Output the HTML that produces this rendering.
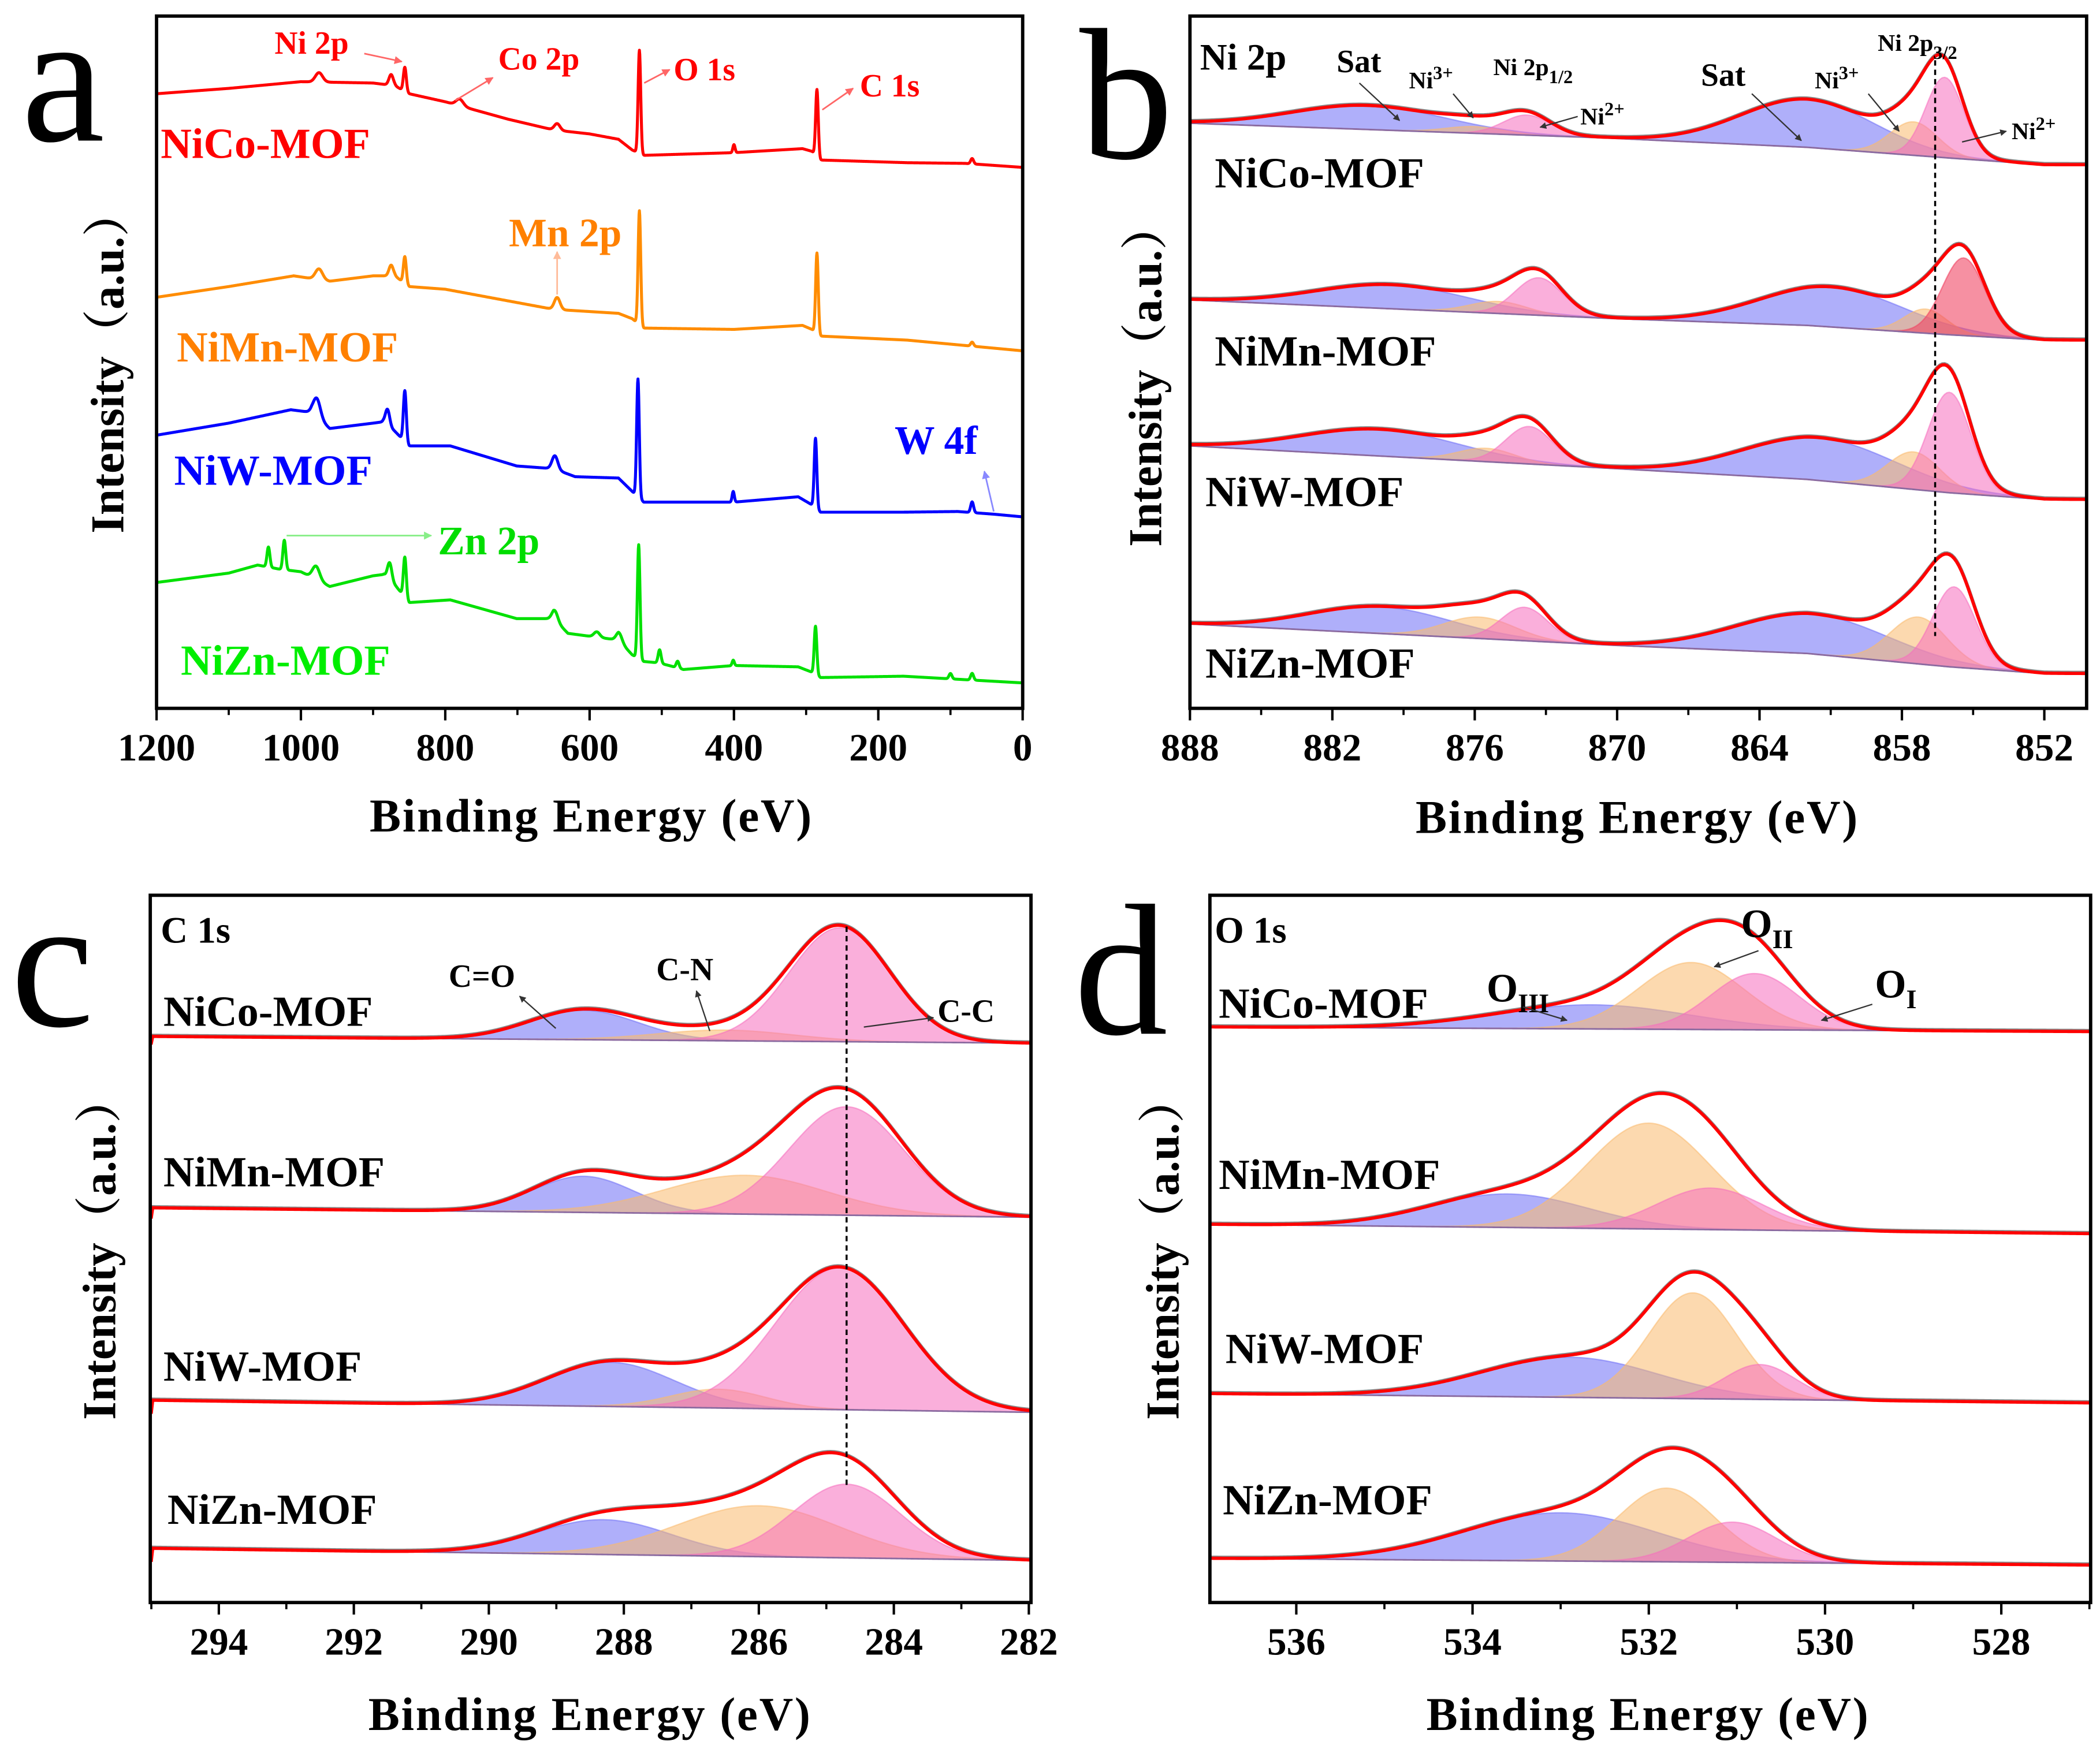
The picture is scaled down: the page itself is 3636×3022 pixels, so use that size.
<!DOCTYPE html>
<html><head><meta charset="utf-8"><title>XPS spectra</title>
<style>
html,body{margin:0;padding:0;background:#fff;}
svg{display:block;}
text{font-family:"Liberation Serif","Noto Serif CJK SC",serif;}
.tk{font-size:29px;font-weight:bold;fill:#000;text-anchor:middle;}
.ttl{font-size:35px;font-weight:bold;fill:#000;text-anchor:middle;}
.smp{font-size:32px;font-weight:bold;}
.ann{font-size:24px;font-weight:bold;}
.pl{font-size:140px;fill:#000;}
</style></head>
<body>
<svg id="fig" xmlns="http://www.w3.org/2000/svg" width="3636" height="3022" viewBox="0 0 1568 1303.2">
<defs>
<marker id="ah" viewBox="0 0 10 10" refX="9" refY="5" markerWidth="5" markerHeight="5" orient="auto"><path d="M0,0L10,5L0,10z" fill="context-stroke"/></marker>
<clipPath id="ca"><rect x="117" y="12" width="647" height="517"/></clipPath>
<clipPath id="cb"><rect x="888.5" y="12" width="669.5" height="517"/></clipPath>
<clipPath id="cc"><rect x="112.2" y="668.6" width="657.6" height="528.2"/></clipPath>
<clipPath id="cd"><rect x="903.4" y="668.6" width="657.6" height="528.2"/></clipPath>
</defs>

<text class="pl" x="16" y="105">a</text>
<text class="pl" x="806" y="118">b</text>
<text class="pl" x="8" y="766">c</text>
<text class="pl" x="802" y="772">d</text>

<text class="ttl" x="441" y="621" textLength="330">Binding Energy (eV)</text>
<text class="ttl" x="1222" y="622" textLength="330">Binding Energy (eV)</text>
<text class="ttl" x="440" y="1292" textLength="330">Binding Energy (eV)</text>
<text class="ttl" x="1230" y="1292" textLength="330">Binding Energy (eV)</text>
<text class="ttl" transform="translate(92,270) rotate(-90)">Intensity（a.u.）</text>
<text class="ttl" transform="translate(867,280) rotate(-90)">Intensity（a.u.）</text>
<text class="ttl" transform="translate(86,932) rotate(-90)">Intensity（a.u.）</text>
<text class="ttl" transform="translate(880,932) rotate(-90)">Intensity（a.u.）</text>

<g id="pa"></g>
<g id="pb"></g>
<g id="pc"></g>
<g id="pd"></g>

<g>
<text class="ann" x="205" y="40" fill="#f00">Ni 2p</text>
<line x1="272" y1="40" x2="300" y2="46" stroke="#f66" stroke-width="1.2" marker-end="url(#ah)"/>
<text class="ann" x="372" y="52" fill="#f00">Co 2p</text>
<line x1="340" y1="75" x2="368" y2="58" stroke="#f66" stroke-width="1.2" marker-end="url(#ah)"/>
<text class="ann" x="503" y="60" fill="#f00">O 1s</text>
<line x1="481" y1="62" x2="500" y2="52" stroke="#f66" stroke-width="1.2" marker-end="url(#ah)"/>
<text class="ann" x="642" y="72" fill="#f00">C 1s</text>
<line x1="614" y1="82" x2="637" y2="66" stroke="#f66" stroke-width="1.2" marker-end="url(#ah)"/>
<text class="smp" x="120" y="118" fill="#f00">NiCo-MOF</text>
<text class="ann" x="380" y="184" fill="#ff8000" style="font-size:30px">Mn 2p</text>
<line x1="416" y1="220" x2="416" y2="188" stroke="#fb9" stroke-width="1.2" marker-end="url(#ah)"/>
<text class="smp" x="132" y="270" fill="#ff8000">NiMn-MOF</text>
<text class="ann" x="668" y="339" fill="#00f" style="font-size:30px">W 4f</text>
<line x1="742" y1="382" x2="735" y2="352" stroke="#88f" stroke-width="1.2" marker-end="url(#ah)"/>
<text class="smp" x="130" y="362" fill="#00f">NiW-MOF</text>
<text class="ann" x="327" y="414" fill="#0d0" style="font-size:30px">Zn 2p</text>
<line x1="214" y1="400" x2="322" y2="400" stroke="#8e8" stroke-width="1.2" marker-end="url(#ah)"/>
<text class="smp" x="135" y="504" fill="#0e0">NiZn-MOF</text>
</g>

<g>
<text x="896" y="52" style="font-size:28px;font-weight:bold">Ni 2p</text>
<text x="998" y="54" style="font-size:24px;font-weight:bold">Sat</text>
<line x1="1015" y1="62" x2="1045" y2="90" stroke="#333" stroke-width="1" marker-end="url(#ah)"/>
<text x="1052" y="66" style="font-size:18px;font-weight:bold">Ni<tspan dy="-7" font-size="14">3+</tspan></text>
<line x1="1085" y1="70" x2="1100" y2="88" stroke="#333" stroke-width="1" marker-end="url(#ah)"/>
<text x="1115" y="56" style="font-size:18px;font-weight:bold">Ni 2p<tspan dy="6" font-size="14">1/2</tspan></text>
<text x="1180" y="93" style="font-size:18px;font-weight:bold">Ni<tspan dy="-7" font-size="14">2+</tspan></text>
<line x1="1178" y1="87" x2="1150" y2="95" stroke="#333" stroke-width="1" marker-end="url(#ah)"/>
<text x="1270" y="64" style="font-size:24px;font-weight:bold">Sat</text>
<line x1="1308" y1="70" x2="1345" y2="105" stroke="#333" stroke-width="1" marker-end="url(#ah)"/>
<text x="1355" y="66" style="font-size:18px;font-weight:bold">Ni<tspan dy="-7" font-size="14">3+</tspan></text>
<line x1="1395" y1="70" x2="1418" y2="98" stroke="#333" stroke-width="1" marker-end="url(#ah)"/>
<text x="1402" y="38" style="font-size:18px;font-weight:bold">Ni 2p<tspan dy="6" font-size="14">3/2</tspan></text>
<text x="1502" y="104" style="font-size:18px;font-weight:bold">Ni<tspan dy="-7" font-size="14">2+</tspan></text>
<line x1="1465" y1="106" x2="1498" y2="98" stroke="#333" stroke-width="1" marker-end="url(#ah)"/>
<text class="smp" x="907" y="140">NiCo-MOF</text>
<text class="smp" x="907" y="273">NiMn-MOF</text>
<text class="smp" x="900" y="378">NiW-MOF</text>
<text class="smp" x="900" y="506">NiZn-MOF</text>
</g>

<g>
<text x="120" y="704" style="font-size:28px;font-weight:bold">C 1s</text>
<text x="335" y="737" style="font-size:24px;font-weight:bold">C=O</text>
<line x1="415" y1="768" x2="388" y2="744" stroke="#333" stroke-width="1" marker-end="url(#ah)"/>
<text x="490" y="732" style="font-size:24px;font-weight:bold">C-N</text>
<line x1="530" y1="770" x2="520" y2="740" stroke="#333" stroke-width="1" marker-end="url(#ah)"/>
<text x="700" y="763" style="font-size:24px;font-weight:bold">C-C</text>
<line x1="645" y1="767" x2="697" y2="760" stroke="#333" stroke-width="1" marker-end="url(#ah)"/>
<text class="smp" x="122" y="766">NiCo-MOF</text>
<text class="smp" x="122" y="886">NiMn-MOF</text>
<text class="smp" x="122" y="1031">NiW-MOF</text>
<text class="smp" x="125" y="1138">NiZn-MOF</text>
</g>

<g>
<text x="907" y="704" style="font-size:28px;font-weight:bold">O 1s</text>
<text x="1110" y="748" style="font-size:30px;font-weight:bold">O<tspan dy="8" font-size="20">III</tspan></text>
<line x1="1137" y1="752" x2="1170" y2="762" stroke="#333" stroke-width="1" marker-end="url(#ah)"/>
<text x="1300" y="700" style="font-size:30px;font-weight:bold">O<tspan dy="8" font-size="20">II</tspan></text>
<line x1="1313" y1="710" x2="1280" y2="722" stroke="#333" stroke-width="1" marker-end="url(#ah)"/>
<text x="1400" y="745" style="font-size:30px;font-weight:bold">O<tspan dy="8" font-size="20">I</tspan></text>
<line x1="1398" y1="750" x2="1360" y2="762" stroke="#333" stroke-width="1" marker-end="url(#ah)"/>
<text class="smp" x="910" y="760">NiCo-MOF</text>
<text class="smp" x="910" y="888">NiMn-MOF</text>
<text class="smp" x="915" y="1018">NiW-MOF</text>
<text class="smp" x="913" y="1131">NiZn-MOF</text>
</g>
</svg>

<script>
const surveyNames = ['NiCo-MOF','NiMn-MOF','NiW-MOF','NiZn-MOF'];
const nicoBase = [[1200,459],[1100,463],[1000,468],[900,467],[870,465],[850,459],[800,453],[713,440],[650,432],[600,429],[560,425],[541,417],[525,413],[400,415],[305,418],[292,416],[280,409.5],[160,407.5],[80,407],[0,404]];
const nicoPeaks = [[975,7,5],[875,8,3],[856,18,2],[780,5,5],[645,5,4],[531,77,1.8],[400,6,1.5],[285,50,1.8],[70,4,2]];
const nimnBase = [[1200,307],[1100,315],[1010,323],[960,319],[900,323],[870,323],[850,315],[800,313],[700,303],[650,298],[560,295],[541,291],[525,284],[400,283],[305,286],[292,283],[280,278],[160,275],[0,267]];
const nimnPeaks = [[975,8,5],[875,8,3],[856,20,2],[645,9,4],[531,85,1.8],[285,60,1.8],[70,3,2]];
const niwBase = [[1200,204],[1100,213],[1014,223],[985,221],[960,209],[900,213],[886,214],[870,207],[850,196],[793,196],[701,181],[650,179],[620,173],[560,172],[541,162],[525,154],[400,154],[311,158],[292,152],[280,146.5],[165,146.5],[90,147],[40,145],[0,143]];
const niwPeaks = [[978,14,5],[880,12,3],[856,38,2],[648,10,4],[533,88,1.8],[401,8,1.5],[287,52,1.8],[70,8,2]];
const niznBase = [[1200,94],[1100,101],[1060,107],[1030,104],[1000,102],[960,91],[900,99],[885,100],[868,91],[850,79],[793,81],[701,67],[650,67],[630,56],[560,51],[541,40],[525,35],[505,34],[490,32],[470,29],[400,32],[311,31],[292,27],[280,23],[165,24],[0,19]];
const niznPeaks = [[1045,15,2],[1023,22,2],[979,10,5],[877,13,3],[856,30,2],[648,7,4],[590,4,4],[559,6,4],[532,85,1.8],[503,10,2],[478,5,2],[401,4,1.5],[287,36,1.8],[100,4,2],[70,5,2]];
const surveyColors = ['#ff0000','#ff8c00','#0000ff','#00e000'];
const ticksA = [1200,1000,800,600,400,200,0];

const ni2pNiCoBase = [[888,31],[870.5,20],[862,13],[856,5],[852,0],[850,0]];
const ni2pNiCoComps = [['b',880.5,18,3.2],['o',876,5,1.2],['p',873.8,15,1.0],['b',862,36,2.8],['o',857.5,25,1.0],['p',856.2,60,0.8]];
const ni2pNiMnBase = [[888,30],[870,16],[862,11],[856,4],[852,0],[850,0]];
const ni2pNiMnComps = [['b',879.5,18,3.2],['o',875,9,1.2],['p',873.3,28,1.0],['b',861,30,3],['o',857,18,0.9],['r',855.4,58,0.9]];
const ni2pNiWBase = [[888,40],[870,23],[862,15],[856,5],[852,0],[850,0]];
const ni2pNiWComps = [['b',880,20,3.3],['o',875.5,10,1.2],['p',873.7,28,1.0],['b',861.5,32,3.2],['o',857.5,28,1.1],['p',856,75,0.9]];
const ni2pNiZnBase = [[888,37],[870,21],[862,15],[856,5],[852,0],[850,0]];
const ni2pNiZnComps = [['b',880,20,3],['o',875.8,16,1.5],['p',873.9,25,1.0],['b',861.8,30,3.2],['o',857.3,35,1.2],['p',855.8,60,0.9]];
const ticksB = [888,882,876,870,864,858,852];
const refLineB = 856.6;

const c1sNiCoBase = [[295,5],[282,0]];
const c1sNiCoComps = [['b',288.6,22,0.8],['o',286.5,8,1.0],['p',284.8,85,0.75]];
const c1sNiMnBase = [[295,7],[282,0]];
const c1sNiMnComps = [['b',288.6,27,0.75],['o',286.2,29,1.2],['p',284.7,81,0.85]];
const c1sNiWBase = [[295,9],[282,0]];
const c1sNiWComps = [['b',288.2,33,0.95],['o',286.6,14,0.7],['p',284.8,106,0.95]];
const c1sNiZnBase = [[295,9],[282,0]];
const c1sNiZnComps = [['b',288.3,26,1.0],['o',286.0,38,1.2],['p',284.7,55,0.8]];
const ticksC = [294,292,290,288,286,284,282];
const refLineC = 284.7;

const o1sNiCoBase = [[537,3.5],[527,0]];
const o1sNiCoComps = [['b',532.64,18,1.1],['o',531.52,50,0.6],['p',530.8,42,0.5]];
const o1sNiMnBase = [[537,7],[527,0]];
const o1sNiMnComps = [['b',533.6,25,0.9],['o',532.0,79,0.7],['p',531.3,31,0.6]];
const o1sNiWBase = [[537,7],[527,0]];
const o1sNiWComps = [['b',532.9,30,1.0],['o',531.5,79,0.5],['p',530.74,26,0.4]];
const o1sNiZnBase = [[537,5],[527,0]];
const o1sNiZnComps = [['b',533.0,36,1.1],['o',531.8,55,0.55],['p',531.05,30,0.5]];
const ticksD = [536,534,532,530,528];

const NS = 'http://www.w3.org/2000/svg';
const xa = E => 116.9 + (1200 - E) * 0.5389;
const ya = v => 529 - v;
const xb = E => 888.5 + (888 - E) * 17.72;
const xc = E => 163.4 + (294 - E) * 50.4;
const xd = E => 967.9 + (536 - E) * 65.8;
const fillCol = {b:'rgba(110,110,245,0.55)', o:'rgba(250,185,110,0.55)', p:'rgba(245,110,190,0.55)', r:'rgba(240,70,100,0.6)'};

function mk(tag, parent) { const e = document.createElementNS(NS, tag); parent.appendChild(e); return e; }
function interp(pts, E) {
  for (let i = 0; i < pts.length - 1; i++) {
    const a = pts[i], b = pts[i+1];
    if ((E <= a[0] && E >= b[0]) || (E >= a[0] && E <= b[0])) {
      const t = (E - a[0]) / (b[0] - a[0]); return a[1] + t * (b[1] - a[1]);
    }
  }
  return pts[pts.length-1][1];
}
const gauss = (E, c, a, s) => a * Math.exp(-((E - c) ** 2) / (2 * s * s));

function frame(g, x0, y0, x1, y1, ticks, xs, minorStep, name) {
  const r = mk('rect', g);
  
  
  r.setAttribute('x', x0); r.setAttribute('y', y0); r.setAttribute('width', x1 - x0); r.setAttribute('height', y1 - y0);
  r.setAttribute('fill', 'none'); r.setAttribute('stroke', '#000'); r.setAttribute('stroke-width', '2.5');
  const lo = Math.min(...ticks), hi = Math.max(...ticks);
  for (let E = hi + minorStep; E >= lo - minorStep - 1e-9; E -= minorStep) {
    const x = xs(E); if (x < x0 - 0.5 || x > x1 + 0.5) continue;
    const t = mk('line', g);
    
    
    t.setAttribute('x1', x); t.setAttribute('x2', x); t.setAttribute('y1', y1); t.setAttribute('y2', y1 + 5);
    t.setAttribute('stroke', '#000'); t.setAttribute('stroke-width', '1.6');
  }
  ticks.forEach(v => {
    const x = xs(v);
    const t = mk('line', g);
    
    
    t.setAttribute('x1', x); t.setAttribute('x2', x); t.setAttribute('y1', y1); t.setAttribute('y2', y1 + 9);
    t.setAttribute('stroke', '#000'); t.setAttribute('stroke-width', '1.8');
    const l = mk('text', g);
    
    
    l.setAttribute('class', 'tk'); l.setAttribute('x', x); l.setAttribute('y', y1 + 39);
    l.textContent = v;
  });
}

(function(){
  const g = document.getElementById('pa');
  const cg = mk('g', g); cg.setAttribute('clip-path', 'url(#ca)');
  const bases = [nicoBase, nimnBase, niwBase, niznBase];
  const peaks = [nicoPeaks, nimnPeaks, niwPeaks, niznPeaks];
  bases.forEach((base, i) => {
    let d = '';
    for (let E = 1200; E >= 0; E -= 0.5) {
      let v = interp(base, E);
      peaks[i].forEach(p => { v += gauss(E, p[0], p[1], p[2]); });
      d += (d ? 'L' : 'M') + xa(E).toFixed(2) + ',' + ya(v).toFixed(2);
    }
    const p = mk('path', cg);
    
    
    p.setAttribute('d', d); p.setAttribute('fill', 'none');
    p.setAttribute('stroke', surveyColors[i]); p.setAttribute('stroke-width', '2.2'); p.setAttribute('stroke-linejoin', 'round');
  });
  frame(g, 116.9, 12, 763.6, 529, ticksA, xa, 100, 'axis-a');
})();

function fitPanel(gid, clip, xs, Emax, Emin, step, traces, name) {
  const g = document.getElementById(gid);
  const cg = mk('g', g); cg.setAttribute('clip-path', 'url(#' + clip + ')');
  traces.forEach(tr => {
    const [off, base, comps, tname] = tr;
    const Es = []; for (let E = Emax; E >= Emin - 1e-9; E -= step) Es.push(E);
    const baseY = Es.map(E => off - interp(base, E));
    comps.forEach(c => {
      let d = '';
      Es.forEach((E, k) => { d += (d ? 'L' : 'M') + xs(E).toFixed(2) + ',' + (baseY[k] - gauss(E, c[1], c[2], c[3])).toFixed(2); });
      for (let k = Es.length - 1; k >= 0; k--) d += 'L' + xs(Es[k]).toFixed(2) + ',' + baseY[k].toFixed(2);
      const p = mk('path', cg);
      
      
      p.setAttribute('d', d + 'Z'); p.setAttribute('fill', fillCol[c[0]]);
      p.setAttribute('stroke', fillCol[c[0]]); p.setAttribute('stroke-width', '1');
    });
    let bd = '';
    Es.forEach((E, k) => { bd += (bd ? 'L' : 'M') + xs(E).toFixed(2) + ',' + baseY[k].toFixed(2); });
    const bl = mk('path', cg);
    
    
    bl.setAttribute('d', bd); bl.setAttribute('fill', 'none'); bl.setAttribute('stroke', '#8a6aa0'); bl.setAttribute('stroke-width', '1.2');
    let ed = '';
    Es.forEach((E, k) => {
      let v = 0; comps.forEach(c => { v += gauss(E, c[1], c[2], c[3]); });
      ed += (ed ? 'L' : 'M') + xs(E).toFixed(2) + ',' + (baseY[k] - v).toFixed(2);
    });
    const raw = mk('path', cg);
    
    
    raw.setAttribute('d', ed); raw.setAttribute('fill', 'none'); raw.setAttribute('stroke', '#888'); raw.setAttribute('stroke-width', '2.4');
    raw.setAttribute('transform', 'translate(0,-0.8)');
    const env = mk('path', cg);
    
    
    env.setAttribute('d', ed); env.setAttribute('fill', 'none'); env.setAttribute('stroke', '#ff0000'); env.setAttribute('stroke-width', '2.4');
  });
  return g;
}

(function(){
  const g = fitPanel('pb', 'cb', xb, 889, 849.5, 0.1, [
    [123, ni2pNiCoBase, ni2pNiCoComps, 'nico'],
    [254, ni2pNiMnBase, ni2pNiMnComps, 'nimn'],
    [373, ni2pNiWBase, ni2pNiWComps, 'niw'],
    [503, ni2pNiZnBase, ni2pNiZnComps, 'nizn']], 'ni2p');
  const l = mk('line', g);
  
  
  l.setAttribute('x1', xb(refLineB)); l.setAttribute('x2', xb(refLineB)); l.setAttribute('y1', 45); l.setAttribute('y2', 475);
  l.setAttribute('stroke', '#000'); l.setAttribute('stroke-width', '1.5'); l.setAttribute('stroke-dasharray', '4,3');
  frame(g, 888.5, 12, 1558, 529, ticksB, xb, 3, 'axis-b');
})();

(function(){
  const g = fitPanel('pc', 'cc', xc, 295.2, 281.8, 0.02, [
    [779, c1sNiCoBase, c1sNiCoComps, 'nico'],
    [909, c1sNiMnBase, c1sNiMnComps, 'nimn'],
    [1054.7, c1sNiWBase, c1sNiWComps, 'niw'],
    [1165.3, c1sNiZnBase, c1sNiZnComps, 'nizn']], 'c1s');
  const l = mk('line', g);
  
  
  l.setAttribute('x1', xc(refLineC)); l.setAttribute('x2', xc(refLineC)); l.setAttribute('y1', 692); l.setAttribute('y2', 1112);
  l.setAttribute('stroke', '#000'); l.setAttribute('stroke-width', '1.5'); l.setAttribute('stroke-dasharray', '4,3');
  frame(g, 112.2, 668.6, 769.8, 1196.8, ticksC, xc, 1, 'axis-c');
})();

(function(){
  const g = fitPanel('pd', 'cd', xd, 537.1, 526.9, 0.02, [
    [770.4, o1sNiCoBase, o1sNiCoComps, 'nico'],
    [921.3, o1sNiMnBase, o1sNiMnComps, 'nimn'],
    [1047.7, o1sNiWBase, o1sNiWComps, 'niw'],
    [1168.8, o1sNiZnBase, o1sNiZnComps, 'nizn']], 'o1s');
  frame(g, 903.4, 668.6, 1561, 1196.8, ticksD, xd, 1, 'axis-d');
})();
</script>
</body></html>
